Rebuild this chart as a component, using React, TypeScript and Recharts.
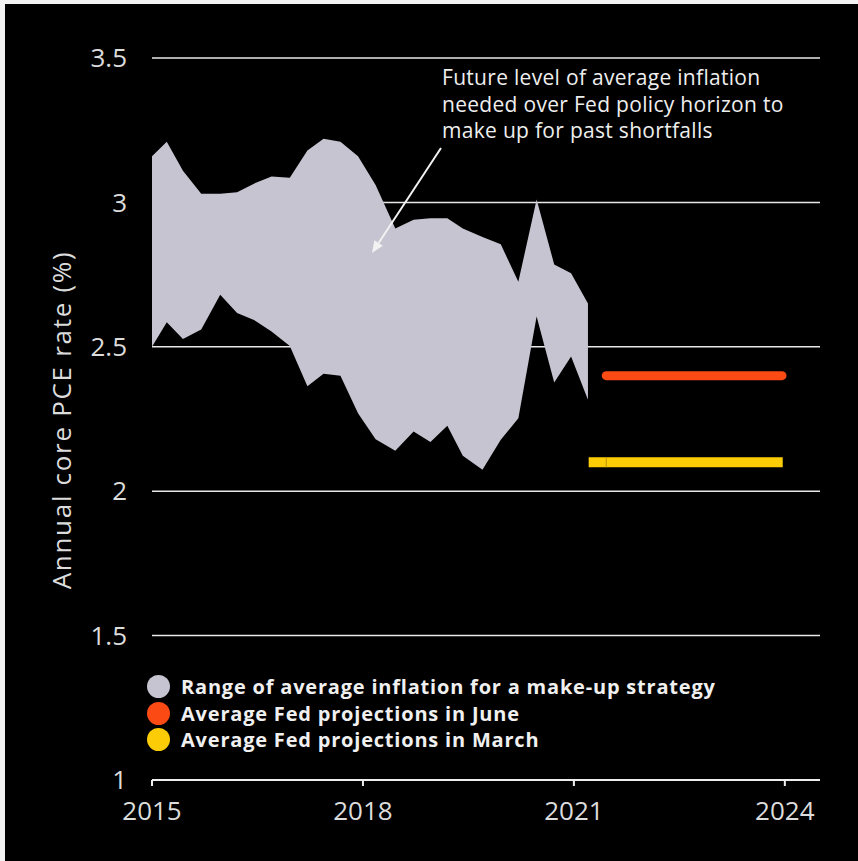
import React from 'react';
import { ComposedChart, Area, Line, XAxis, YAxis, CartesianGrid, Legend } from 'recharts';

// range of average inflation (upper / lower bound), roughly quarterly
const YEARS = [
  2015.0, 2015.21, 2015.44, 2015.7, 2015.97, 2016.21, 2016.45, 2016.7, 2016.96,
  2017.21, 2017.44, 2017.68, 2017.93, 2018.18, 2018.46, 2018.72, 2018.96, 2019.2,
  2019.42, 2019.7, 2019.96, 2020.21, 2020.47, 2020.72, 2020.96, 2021.2,
];
const RANGE_HIGH = [
  3.16, 3.21, 3.11, 3.03, 3.03, 3.035, 3.065, 3.09, 3.085,
  3.18, 3.22, 3.21, 3.16, 3.06, 2.91, 2.94, 2.945, 2.945,
  2.91, 2.88, 2.855, 2.725, 3.01, 2.785, 2.755, 2.65,
];
const RANGE_LOW = [
  2.5, 2.585, 2.527, 2.56, 2.68, 2.617, 2.593, 2.553, 2.503,
  2.363, 2.407, 2.4, 2.27, 2.18, 2.14, 2.207, 2.17, 2.227,
  2.123, 2.074, 2.178, 2.253, 2.605, 2.376, 2.466, 2.317,
];

const JUNE_YEARS = [2021.46, 2023.96];
const JUNE_VALUES = [2.4, 2.4];
const MARCH_YEARS = [2021.21, 2021.46, 2023.97];
const MARCH_VALUES = [2.1, 2.1, 2.1];

const X_TICKS = [2015, 2018, 2021, 2024];
const Y_TICKS = [1, 1.5, 2, 2.5, 3, 3.5];

const NAMES = {
  range: 'Range of average inflation for a make-up strategy',
  june: 'Average Fed projections in June',
  march: 'Average Fed projections in March',
};
const COLORS = {
  range: '#c5c4d0',
  june: '#fc4a14',
  march: '#fccc06',
};
const LEGEND_ORDER = [NAMES.range, NAMES.june, NAMES.march];

const rangeData = YEARS.map((x, i) => ({ x, range: [RANGE_LOW[i], RANGE_HIGH[i]] }));
const juneData = JUNE_YEARS.map((x, i) => ({ x, june: JUNE_VALUES[i] }));
const marchData = MARCH_YEARS.map((x, i) => ({ x, march: MARCH_VALUES[i] }));

const FONT = '"Open Sans", sans-serif';
const TEXT = '#dcdcdc';

const colorFor = (name: string) =>
  name === NAMES.range ? COLORS.range : name === NAMES.june ? COLORS.june : COLORS.march;

const renderLegend = (props: any) => {
  const items = [...(props.payload || [])].sort(
    (a: any, b: any) => LEGEND_ORDER.indexOf(a.value) - LEGEND_ORDER.indexOf(b.value)
  );
  return (
    <div style={{ fontFamily: FONT }}>
      {items.map((entry: any) => (
        <div
          key={entry.value}
          style={{ display: 'flex', alignItems: 'center', height: 26.7 }}
        >
          <span
            style={{
              display: 'inline-block',
              width: 23,
              height: 23,
              borderRadius: '50%',
              background: colorFor(entry.value),
              marginRight: 11,
            }}
          />
          <span
            style={{
              color: '#f0f0f0',
              fontWeight: 700,
              fontSize: 20,
              letterSpacing: 0.8,
              whiteSpace: 'nowrap',
            }}
          >
            {entry.value}
          </span>
        </div>
      ))}
    </div>
  );
};

const marchDot = (p: any) =>
  p.index === 1 ? (
    <line key="div" x1={p.cx} x2={p.cx} y1={p.cy - 5} y2={p.cy + 5} stroke="#b8940a" strokeWidth={1} />
  ) : (
    <g key={`d${p.index}`} />
  );

export default function App() {
  return (
    <div style={{ position: 'absolute', left: 0, top: 0, width: 858, height: 861, background: '#f2f2f2' }}>
      <div style={{ position: 'absolute', left: 5, top: 4, right: 0, bottom: 0, background: '#000' }} />
      <div style={{ position: 'absolute', left: 0, top: 0 }}>
        <ComposedChart
          width={858}
          height={861}
          margin={{ top: 58, right: 38, bottom: 0, left: 0 }}
        >
          <CartesianGrid vertical={false} stroke="#e8e8e8" strokeWidth={1.5} />
          <XAxis
            type="number"
            dataKey="x"
            domain={[2015, 2024.5]}
            ticks={X_TICKS}
            allowDuplicatedCategory={false}
            height={81}
            axisLine={{ stroke: '#eeeeee', strokeWidth: 2 }}
            tickLine={{ stroke: '#eeeeee', strokeWidth: 2 }}
            tickSize={6}
            tickMargin={16}
            tick={{ fill: TEXT, fontSize: 26, fontFamily: FONT }}
          />
          <YAxis
            type="number"
            domain={[1, 3.5]}
            ticks={Y_TICKS}
            width={152}
            axisLine={false}
            tickLine={false}
            tickSize={0}
            tickMargin={25}
            tick={{ fill: TEXT, fontSize: 26, fontFamily: FONT }}
          />
          <Area
            data={rangeData}
            dataKey="range"
            name={NAMES.range}
            type="linear"
            stroke="none"
            fill={COLORS.range}
            fillOpacity={1}
            isAnimationActive={false}
          />
          <Line
            data={juneData}
            dataKey="june"
            name={NAMES.june}
            type="linear"
            stroke={COLORS.june}
            strokeWidth={9}
            strokeLinecap="round"
            dot={false}
            isAnimationActive={false}
          />
          <Line
            data={marchData}
            dataKey="march"
            name={NAMES.march}
            type="linear"
            stroke={COLORS.march}
            strokeWidth={10}
            strokeLinecap="butt"
            dot={marchDot}
            activeDot={false}
            isAnimationActive={false}
          />
          <Legend
            layout="vertical"
            align="center"
            verticalAlign="middle"
            content={renderLegend}
            wrapperStyle={{ position: 'absolute', left: 147, top: 673, width: 'auto', height: 'auto' }}
          />
        </ComposedChart>
      </div>
      <svg
        width={858}
        height={861}
        style={{ position: 'absolute', left: 0, top: 0, pointerEvents: 'none' }}
      >
        <text
          transform="translate(71, 420) rotate(-90)"
          textAnchor="middle"
          fill={TEXT}
          fontSize={26}
          letterSpacing={1.7}
          fontFamily={FONT}
        >
          Annual core PCE rate (%)
        </text>
        <text fill="#eeeeee" fontSize={21} letterSpacing={0.3} fontFamily={FONT}>
          <tspan x={442} y={85}>Future level of average inflation</tspan>
          <tspan x={442} y={111.5}>needed over Fed policy horizon to</tspan>
          <tspan x={442} y={138}>make up for past shortfalls</tspan>
        </text>
        <line x1={441} y1={148} x2={378.6} y2={243} stroke="#f2f2f2" strokeWidth={2} />
        <polygon points="372,253 382.8,245.7 374.4,240.3" fill="#f2f2f2" />
      </svg>
    </div>
  );
}
